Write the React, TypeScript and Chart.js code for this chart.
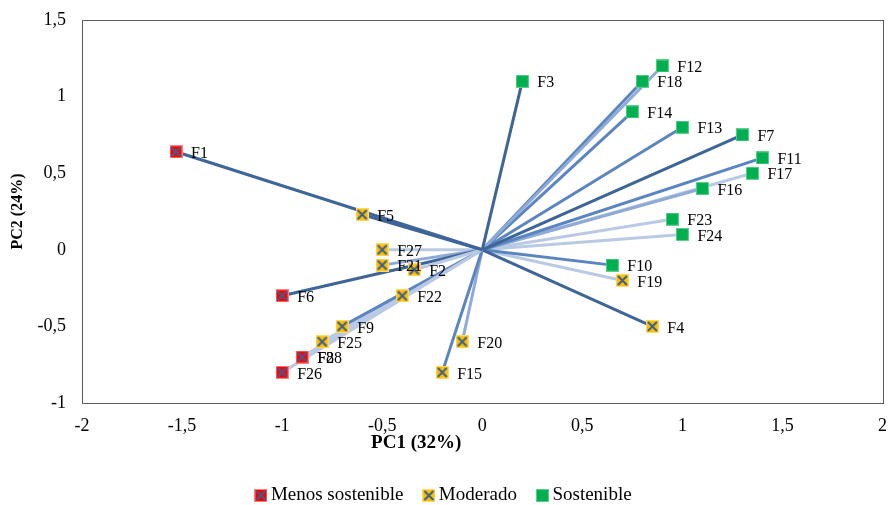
import React, { useEffect, useRef } from "react";
import { Chart, registerables } from "chart.js";

Chart.register(...registerables);

// ---- Data ----
const pointNames = ["F1","F2","F3","F4","F5","F6","F7","F8","F9","F10","F11","F12","F13","F14","F15","F16","F17","F18","F19","F20","F21","F22","F23","F24","F25","F26","F27","F28"];
const pc1 = [-1.53,-0.34,0.2,0.85,-0.6,-1,1.3,-0.9,-0.7,0.65,1.4,0.9,1,0.75,-0.2,1.1,1.35,0.8,0.7,-0.1,-0.5,-0.4,0.95,1,-0.8,-1,-0.5,-0.9];
const pc2 = [0.64,-0.13,1.1,-0.5,0.23,-0.3,0.75,-0.7,-0.5,-0.1,0.6,1.2,0.8,0.9,-0.8,0.4,0.5,1.1,-0.2,-0.6,-0.1,-0.3,0.2,0.1,-0.6,-0.8,0,-0.7];
// 0 = Menos sostenible, 1 = Moderado, 2 = Sostenible
const groupOf = [0,1,2,1,1,0,2,0,1,2,2,2,2,2,1,2,2,2,1,1,1,1,2,2,1,0,1,0];
const groupNames = ["Menos sostenible", "Moderado", "Sostenible"];
const xTicks = [-2,-1.5,-1,-0.5,0,0.5,1,1.5,2];
const yTicks = [-1,-0.5,0,0.5,1,1.5];
const xTitle = "PC1 (32%)";
const yTitle = "PC2 (24%)";

// ---- Styles ----
const shadeColors: Record<string, string> = {
  d: "#3D6597",
  m: "#5A85C0",
  ml: "#8FAAD6",
  l: "#BACAE4",
};
const lineShade = ["d","l","d","d","d","d","d","l","m","m","m","ml","m","m","m","ml","l","m","l","ml","ml","l","l","l","l","l","l","l"];
const FONT = "'Liberation Serif', 'Times New Roman', serif";

function makeMarker(kind: number): HTMLCanvasElement {
  const c = document.createElement("canvas");
  const s = 13;
  c.width = s;
  c.height = s;
  const ctx = c.getContext("2d")!;
  if (kind === 0) {
    ctx.fillStyle = "#FF0000";
    ctx.fillRect(0, 0, s, s);
    ctx.strokeStyle = "#FF8080";
    ctx.lineWidth = 1;
    ctx.strokeRect(0.5, 0.5, s - 1, s - 1);
  } else if (kind === 1) {
    ctx.fillStyle = "#FFC000";
    ctx.fillRect(0, 0, s, s);
    ctx.strokeStyle = "#FFD966";
    ctx.lineWidth = 1;
    ctx.strokeRect(0.5, 0.5, s - 1, s - 1);
  } else {
    ctx.fillStyle = "#00B050";
    ctx.fillRect(0.5, 0.5, s - 1, s - 1);
    ctx.strokeStyle = "#5BD08A";
    ctx.lineWidth = 1;
    ctx.strokeRect(0.5, 0.5, s - 1, s - 1);
  }
  if (kind !== 2) {
    ctx.strokeStyle = "#3A5F92";
    ctx.lineWidth = 2;
    ctx.beginPath();
    ctx.moveTo(2, 2);
    ctx.lineTo(s - 2, s - 2);
    ctx.moveTo(s - 2, 2);
    ctx.lineTo(2, s - 2);
    ctx.stroke();
  }
  return c;
}

const fmt = (v: number) => String(v).replace(".", ",");

export default function App() {
  const ref = useRef<HTMLCanvasElement | null>(null);

  useEffect(() => {
    document.body.style.margin = "0";
    const markers = [makeMarker(0), makeMarker(1), makeMarker(2)];

    const markerSets = groupNames.map((name, g) => ({
      type: "scatter" as const,
      label: name,
      data: pointNames
        .map((n, i) => ({ x: pc1[i], y: pc2[i], g: groupOf[i] }))
        .filter((p) => p.g === g)
        .map((p) => ({ x: p.x, y: p.y })),
      pointStyle: markers[g],
      pointRadius: 6.5,
      showLine: false,
      backgroundColor: "transparent",
      borderColor: "transparent",
    }));

    const lineSets = pointNames.map((n, i) => ({
      type: "scatter" as const,
      label: "line-" + n,
      data: [
        { x: 0, y: 0 },
        { x: pc1[i], y: pc2[i] },
      ],
      showLine: true,
      borderColor: shadeColors[lineShade[i]],
      borderWidth: 3,
      pointRadius: 0,
      pointHoverRadius: 0,
    }));

    const framePlugin = {
      id: "frame",
      beforeDatasetsDraw(chart: any) {
        const { ctx, chartArea: a } = chart;
        ctx.save();
        ctx.strokeStyle = "#595959";
        ctx.lineWidth = 1;
        ctx.strokeRect(Math.round(a.left) + 0.5, Math.round(a.top) + 0.5, Math.round(a.right - a.left), Math.round(a.bottom - a.top));
        ctx.restore();
      },
    };

    const labelPlugin = {
      id: "pointLabels",
      afterDatasetsDraw(chart: any) {
        const { ctx } = chart;
        const xs = chart.scales.x;
        const ys = chart.scales.y;
        ctx.save();
        ctx.font = `16px ${FONT}`;
        ctx.fillStyle = "#000000";
        ctx.textBaseline = "middle";
        ctx.textAlign = "left";
        pointNames.forEach((n, i) => {
          const px = xs.getPixelForValue(pc1[i]);
          const py = ys.getPixelForValue(pc2[i]);
          ctx.fillText(n, px + 15, py + 2);
        });
        // x axis title
        const a = chart.chartArea;
        ctx.font = `bold 19px ${FONT}`;
        ctx.textAlign = "center";
        ctx.fillText(xTitle, xs.getPixelForValue(-0.33), a.bottom + 40);
        ctx.restore();
      },
    };

    const chart = new Chart(ref.current!, {
      type: "scatter",
      data: { datasets: [...markerSets, ...lineSets] as any },
      options: {
        animation: false,
        responsive: false,
        maintainAspectRatio: false,
        layout: { padding: { top: 20, right: 5, left: 7, bottom: -10 } },
        plugins: {
          tooltip: { enabled: false },
          legend: {
            position: "bottom",
            labels: {
              usePointStyle: true,
              font: { family: FONT, size: 19 },
              color: "#000000",
              padding: 25,
              boxWidth: 1,
              boxHeight: 13,
              filter: (item: any) => item.datasetIndex < 3,
            },
          },
        },
        scales: {
          x: {
            type: "linear",
            min: -2,
            max: 2,
            afterBuildTicks: (s: any) => {
              s.ticks = xTicks.map((v) => ({ value: v }));
            },
            afterFit: (s: any) => {
              s.height = 58;
              s.paddingLeft = 0;
              s.paddingRight = 0;
            },
            grid: { display: false, drawTicks: false },
            border: { display: false },
            ticks: {
              callback: (v: any) => fmt(Number(v)),
              font: { family: FONT, size: 18 },
              color: "#000000",
              padding: 12,
              maxRotation: 0,
            },
          },
          y: {
            type: "linear",
            min: -1,
            max: 1.5,
            afterBuildTicks: (s: any) => {
              s.ticks = yTicks.map((v) => ({ value: v }));
            },
            afterFit: (s: any) => {
              s.width = 75;
              s.paddingTop = 0;
              s.paddingBottom = 0;
            },
            grid: { display: false, drawTicks: false },
            border: { display: false },
            title: {
              display: true,
              text: yTitle,
              font: { family: FONT, size: 16, weight: "bold" },
              color: "#000000",
              padding: { top: 1, bottom: 4 },
            },
            ticks: {
              callback: (v: any) => fmt(Number(v)),
              font: { family: FONT, size: 18 },
              color: "#000000",
              padding: 16,
            },
          },
        },
      },
      plugins: [framePlugin, labelPlugin],
    });
    return () => chart.destroy();
  }, []);

  return (
    <div style={{ position: "relative", width: 890, height: 505 }}>
      <canvas ref={ref} width={890} height={505} style={{ width: 890, height: 505 }} />
    </div>
  );
}
